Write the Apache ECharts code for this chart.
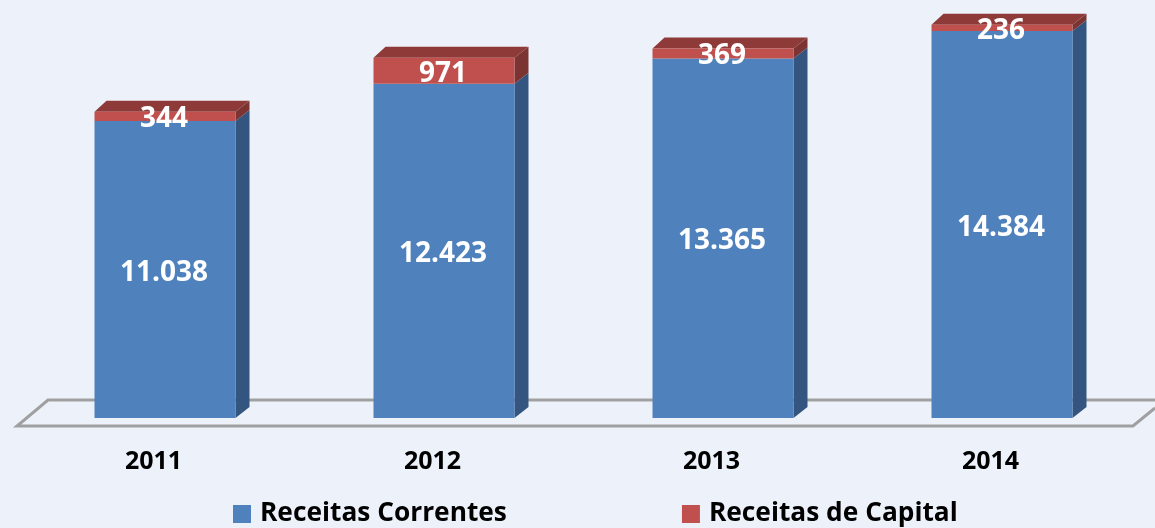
<!DOCTYPE html>
<html><head><meta charset="utf-8">
<style>html,body{margin:0;padding:0;background:#EDF2FA}#c{width:1155px;height:528px}</style>
<script src="https://cdn.jsdelivr.net/npm/echarts@6/dist/echarts.min.js"></script>
</head><body><div id="c"></div>
<script>
const categories = ['2011','2012','2013','2014'];
const correntes = [11038,12423,13365,14384];
const capital = [344,971,369,236];
const FONT = '"Open Sans","Noto Sans",sans-serif';
const fmt = p => p.value >= 1000 ? String(p.value).replace(/(\d+)(\d{3})$/,'$1.$2') : String(p.value);
const BW = 141, DX = 14, DY = 11;
const chart = echarts.init(document.getElementById('c'), null, {renderer:'canvas'});
function depth(params, api){
  const i = api.value(0), a = api.value(1), b = api.value(2);
  const p0 = api.coord([i,0]), p1 = api.coord([i,a]), p2 = api.coord([i,a+b]);
  const r = p0[0]+BW/2, l = p0[0]-BW/2;
  const poly = (pts,fill)=>({type:'polygon',shape:{points:pts},style:{fill}});
  return {type:'group',children:[
    poly([[r,p0[1]],[r+DX,p0[1]-DY],[r+DX,p1[1]-DY],[r,p1[1]]],'#34557F'),
    poly([[r,p1[1]],[r+DX,p1[1]-DY],[r+DX,p2[1]-DY],[r,p2[1]]],'#7C3432'),
    poly([[l,p2[1]],[l+DX-2,p2[1]-DY],[r+DX,p2[1]-DY],[r,p2[1]]],'#8E3A38')
  ]};
}
const lbl = {show:true,position:'inside',color:'#fff',fontFamily:FONT,fontWeight:'bold',fontSize:28,formatter:fmt,offset:[-1,3]};
chart.setOption({
  animation:false,
  backgroundColor:'#EDF2FA',
  grid:{left:25.5,width:1116,top:14.5,height:403.5},
  xAxis:{type:'category',data:categories,
    axisLine:{show:false},axisTick:{show:false},
    axisLabel:{color:'#000',fontFamily:FONT,fontWeight:'bold',fontSize:25,margin:31,padding:[0,23,0,0]}},
  yAxis:{type:'value',min:0,max:15000,show:false,splitLine:{show:false}},
  legend:{left:228,top:496,padding:[5,5,5,5],itemWidth:18,itemHeight:18,itemGap:175,icon:'rect',
    data:['Receitas Correntes','Receitas de Capital'],
    textStyle:{color:'#000',fontFamily:FONT,fontWeight:'bold',fontSize:26.3,padding:[4,0,0,4]}},
  graphic:{elements:[{type:'polyline',z:0,silent:true,
    shape:{points:[[1155,400],[48,400],[17,426],[1133,426],[1155,408]]},
    style:{stroke:'#A0A0A0',lineWidth:3,fill:null}}]},
  series:[
    {name:'Receitas Correntes',type:'bar',stack:'t',barWidth:BW,data:correntes,itemStyle:{color:'#4F81BD'},label:lbl,z:3},
    {name:'Receitas de Capital',type:'bar',stack:'t',barWidth:BW,data:capital,itemStyle:{color:'#C0504D'},label:lbl,z:3},
    {name:'profundidade',type:'custom',silent:true,z:2,renderItem:depth,
     encode:{x:0,y:2},data:categories.map((c,i)=>[i,correntes[i],capital[i]])}
  ]
});
</script></body></html>
